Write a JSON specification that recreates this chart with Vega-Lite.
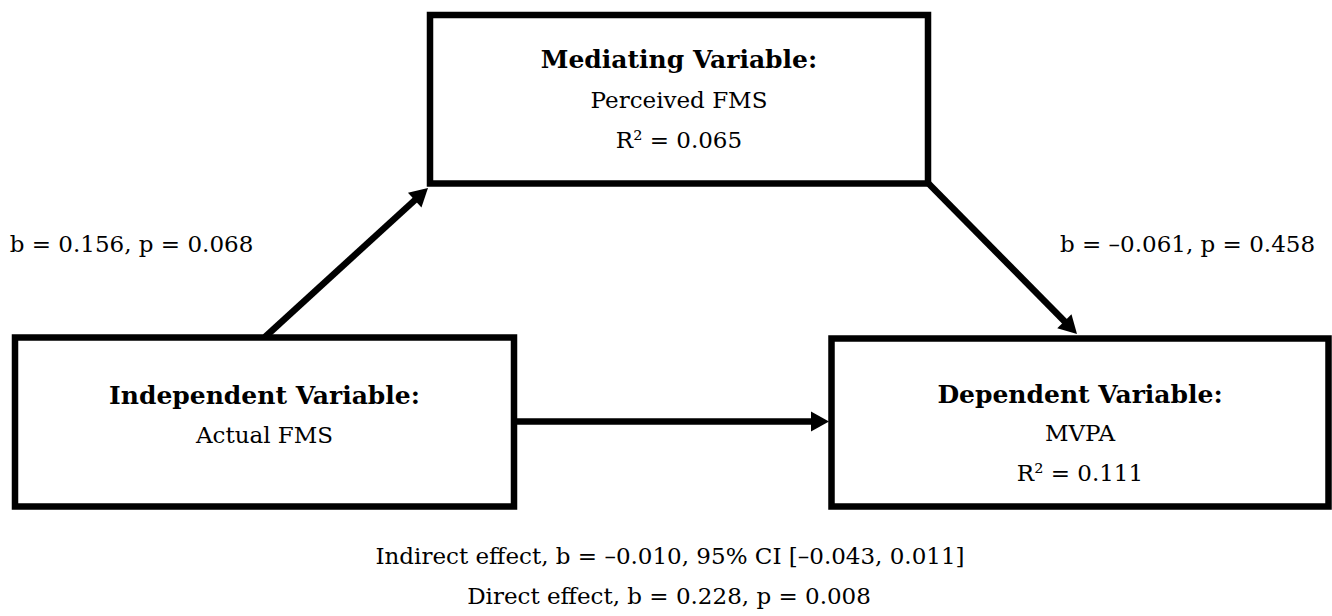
{
  "$schema": "https://vega.github.io/schema/vega-lite/v6.json",
  "width": 1332,
  "height": 616,
  "autosize": {"type": "fit", "contains": "padding"},
  "padding": 0,
  "background": "white",
  "config": {"view": {"stroke": null}, "font": "DejaVu Serif"},
  "datasets": {
    "boxes": [
      {"node": "Mediating", "x1": 430, "x2": 928, "y1": 15, "y2": 183.5},
      {"node": "Independent", "x1": 15, "x2": 514, "y1": 337.5, "y2": 506.5},
      {"node": "Dependent", "x1": 831.5, "x2": 1328.5, "y1": 338.5, "y2": 506.5}
    ],
    "paths": [
      {"path": "a", "x1": 265, "y1": 337, "x2": 416.2, "y2": 198.8, "tx": 428, "ty": 188, "angle": 47.6},
      {"path": "b", "x1": 928, "y1": 183, "x2": 1065.8, "y2": 322.6, "tx": 1077, "ty": 334, "angle": 135.4},
      {"path": "c", "x1": 514, "y1": 421.5, "x2": 813, "y2": 421.5, "tx": 829, "ty": 421.5, "angle": 90}
    ],
    "texts": [
      {"kind": "title", "x": 679, "y": 60, "text": "Mediating Variable:"},
      {"kind": "body", "x": 679, "y": 101, "text": "Perceived FMS"},
      {"kind": "body", "x": 679, "y": 141, "text": "R² = 0.065"},
      {"kind": "title", "x": 264.5, "y": 396, "text": "Independent Variable:"},
      {"kind": "body", "x": 264.5, "y": 436, "text": "Actual FMS"},
      {"kind": "title", "x": 1080, "y": 395, "text": "Dependent Variable:"},
      {"kind": "body", "x": 1080, "y": 434, "text": "MVPA"},
      {"kind": "body", "x": 1080, "y": 474, "text": "R² = 0.111"},
      {"kind": "body", "x": 131.5, "y": 245, "text": "b = 0.156, p = 0.068"},
      {"kind": "body", "x": 1187.5, "y": 245, "text": "b = –0.061, p = 0.458"},
      {"kind": "body", "x": 670, "y": 557, "text": "Indirect effect, b = –0.010, 95% CI [–0.043, 0.011]"},
      {"kind": "body", "x": 669, "y": 597, "text": "Direct effect, b = 0.228, p = 0.008"}
    ]
  },
  "layer": [
    {
      "data": {"name": "paths"},
      "mark": {"type": "rule", "stroke": "black", "strokeWidth": 6.5},
      "encoding": {
        "x": {"field": "x1", "type": "quantitative", "scale": {"domain": [0, 1332], "nice": false, "zero": false}, "axis": null},
        "y": {"field": "y1", "type": "quantitative", "scale": {"domain": [0, 616], "nice": false, "zero": false, "reverse": true}, "axis": null},
        "x2": {"field": "x2"},
        "y2": {"field": "y2"}
      }
    },
    {
      "data": {"name": "boxes"},
      "mark": {"type": "rect", "fill": "white", "stroke": "black", "strokeWidth": 6.5},
      "encoding": {
        "x": {"field": "x1", "type": "quantitative", "scale": {"domain": [0, 1332], "nice": false, "zero": false}, "axis": null},
        "y": {"field": "y1", "type": "quantitative", "scale": {"domain": [0, 616], "nice": false, "zero": false, "reverse": true}, "axis": null},
        "x2": {"field": "x2"},
        "y2": {"field": "y2"}
      }
    },
    {
      "data": {"name": "paths"},
      "mark": {"type": "point", "shape": "M0,0L-1,1.8L1,1.8Z", "filled": true, "fill": "black", "stroke": null, "opacity": 1, "size": 400},
      "encoding": {
        "x": {"field": "tx", "type": "quantitative", "scale": {"domain": [0, 1332], "nice": false, "zero": false}, "axis": null},
        "y": {"field": "ty", "type": "quantitative", "scale": {"domain": [0, 616], "nice": false, "zero": false, "reverse": true}, "axis": null},
        "angle": {"field": "angle", "type": "quantitative", "scale": null}
      }
    },
    {
      "data": {"name": "texts"},
      "transform": [{"filter": "datum.kind === 'title'"}],
      "mark": {"type": "text", "font": "DejaVu Serif", "fontSize": 25, "fontWeight": "bold", "color": "black", "align": "center", "baseline": "middle"},
      "encoding": {
        "x": {"field": "x", "type": "quantitative", "scale": {"domain": [0, 1332], "nice": false, "zero": false}, "axis": null},
        "y": {"field": "y", "type": "quantitative", "scale": {"domain": [0, 616], "nice": false, "zero": false, "reverse": true}, "axis": null},
        "text": {"field": "text"}
      }
    },
    {
      "data": {"name": "texts"},
      "transform": [{"filter": "datum.kind === 'body'"}],
      "mark": {"type": "text", "font": "DejaVu Serif", "fontSize": 23, "color": "black", "align": "center", "baseline": "middle"},
      "encoding": {
        "x": {"field": "x", "type": "quantitative", "scale": {"domain": [0, 1332], "nice": false, "zero": false}, "axis": null},
        "y": {"field": "y", "type": "quantitative", "scale": {"domain": [0, 616], "nice": false, "zero": false, "reverse": true}, "axis": null},
        "text": {"field": "text"}
      }
    }
  ]
}
